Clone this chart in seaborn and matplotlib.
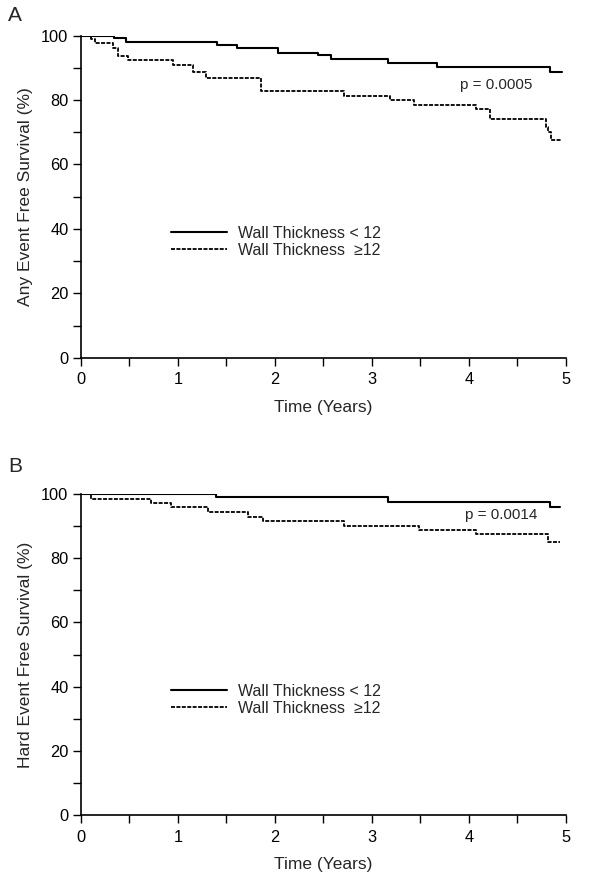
import matplotlib
matplotlib.use("Agg")
import matplotlib.pyplot as plt
from matplotlib.ticker import MultipleLocator
import seaborn as sns

# --- Data (Kaplan-Meier step curves) ---
a_thin_t = [0, 0.34, 0.46, 1.40, 1.61, 2.03, 2.44, 2.58, 3.17, 3.67, 4.84, 4.96]
a_thin_s = [100, 99.3, 98.0, 97.0, 96.0, 94.7, 94.0, 92.6, 91.5, 90.3, 88.8, 88.8]

a_thick_t = [0, 0.10, 0.14, 0.33, 0.38, 0.48, 0.945, 1.15, 1.29, 1.86, 2.71,
             3.19, 3.43, 4.07, 4.22, 4.80, 4.82, 4.85, 4.95]
a_thick_s = [100, 98.8, 97.7, 96.2, 93.8, 92.3, 91.0, 88.7, 86.9, 82.8, 81.4,
             80.0, 78.4, 77.1, 74.0, 71.7, 70.0, 67.5, 67.5]

b_thin_t = [0, 1.39, 3.17, 4.84, 4.94]
b_thin_s = [100, 99.0, 97.6, 96.0, 96.0]

b_thick_t = [0, 0.10, 0.72, 0.93, 1.31, 1.72, 1.88, 2.71, 3.49, 4.07, 4.82, 4.94]
b_thick_s = [100, 98.5, 97.2, 95.8, 94.5, 92.9, 91.7, 90.1, 88.75, 87.5, 85.2, 85.2]

group_labels = ["Wall Thickness < 12", "Wall Thickness  \u226512"]
panel_letters = ["A", "B"]
y_labels = ["Any Event Free Survival (%)", "Hard Event Free Survival (%)"]
p_values = ["p = 0.0005", "p = 0.0014"]
p_pos = [(3.91, 84.8), (3.96, 93.5)]

sns.set_style("ticks")
plt.rcParams["font.family"] = ["Liberation Sans", "DejaVu Sans"]
plt.rcParams["font.size"] = 11

fig = plt.figure(figsize=(6, 8.9), dpi=100)
ax_a = fig.add_axes([0.135, 0.598, 0.808, 0.362])
ax_b = fig.add_axes([0.135, 0.084, 0.808, 0.361])

panels = [
    (ax_a, a_thin_t, a_thin_s, a_thick_t, a_thick_s),
    (ax_b, b_thin_t, b_thin_s, b_thick_t, b_thick_s),
]

for i, (ax, t1, s1, t2, s2) in enumerate(panels):
    sns.lineplot(x=t1, y=s1, ax=ax, drawstyle="steps-post", color="black",
                 linewidth=1.5, label=group_labels[0])
    sns.lineplot(x=t2, y=s2, ax=ax, drawstyle="steps-post", color="black",
                 linewidth=1.3, linestyle=(0, (2.2, 0.8)), label=group_labels[1])

    ax.set_xlim(0, 5)
    ax.set_ylim(0, 100)
    ax.xaxis.set_major_locator(MultipleLocator(1))
    ax.xaxis.set_minor_locator(MultipleLocator(0.5))
    ax.yaxis.set_major_locator(MultipleLocator(20))
    ax.yaxis.set_minor_locator(MultipleLocator(10))
    ax.tick_params(which="both", direction="out", length=5.5, width=1, colors="black")
    ax.tick_params(axis="x", pad=5)
    ax.tick_params(labelsize=11.8)
    for side in ["top", "right"]:
        ax.spines[side].set_visible(False)
    for side in ["left", "bottom"]:
        ax.spines[side].set_linewidth(1.2)
        ax.spines[side].set_color("black")

    ax.set_xlabel("Time (Years)", fontsize=12.5, labelpad=9)
    ax.set_ylabel(y_labels[i], fontsize=12.5, labelpad=6)

    ax.text(p_pos[i][0], p_pos[i][1], p_values[i], fontsize=11, va="center")

    ax.legend(loc="upper left", bbox_to_anchor=(0.186, 0.41), frameon=False,
              fontsize=11.5, handlelength=3.5, handletextpad=0.7,
              labelspacing=0.15, borderpad=0, borderaxespad=0)

fig.text(0.013, 0.983, panel_letters[0], fontsize=15, va="center")
fig.text(0.013, 0.476, panel_letters[1], fontsize=15, va="center")

fig.savefig("out.png", dpi=100, facecolor="white")
